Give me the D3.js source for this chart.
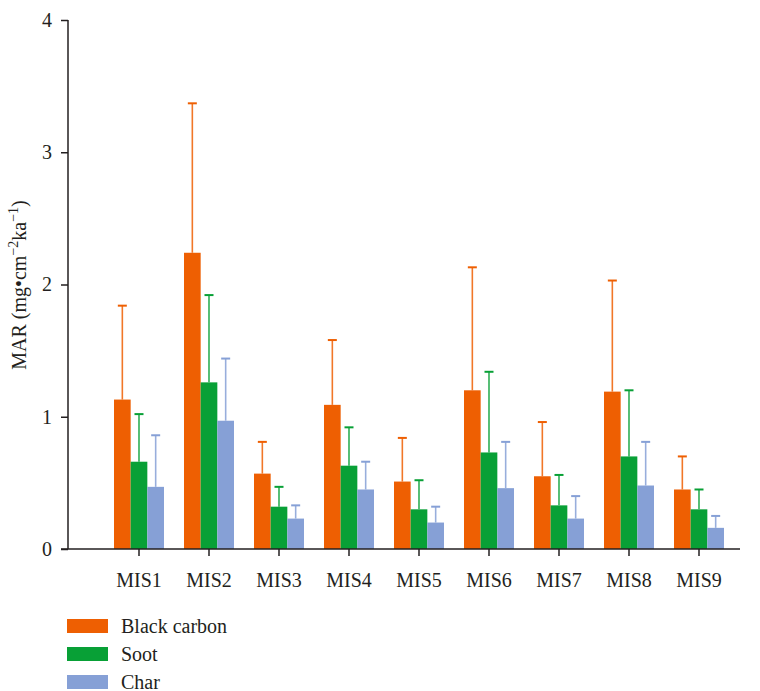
<!DOCTYPE html>
<html>
<head>
<meta charset="utf-8">
<script src="https://cdn.jsdelivr.net/npm/d3@7"></script>
<style>
  html, body { margin: 0; padding: 0; background: #fff; }
  svg { display: block; }
  svg text { font-family: "Liberation Serif", "Times New Roman", "DejaVu Serif", serif; }
</style>
</head>
<body>
<svg id="chart" width="760" height="691"></svg>
<script>
// Mass accumulation rates per marine isotope stage
const categories = ["MIS1", "MIS2", "MIS3", "MIS4", "MIS5", "MIS6", "MIS7", "MIS8", "MIS9"];
const seriesNames = ["Black carbon", "Soot", "Char"];
const blackCarbon    = [1.13, 2.24, 0.57, 1.09, 0.51, 1.20, 0.55, 1.19, 0.45];
const blackCarbonErr = [0.71, 1.13, 0.24, 0.49, 0.33, 0.93, 0.41, 0.84, 0.25];
const soot           = [0.66, 1.26, 0.32, 0.63, 0.30, 0.73, 0.33, 0.70, 0.30];
const sootErr        = [0.36, 0.66, 0.15, 0.29, 0.22, 0.61, 0.23, 0.50, 0.15];
const charVals       = [0.47, 0.97, 0.23, 0.45, 0.20, 0.46, 0.23, 0.48, 0.16];
const charErr        = [0.39, 0.47, 0.10, 0.21, 0.12, 0.35, 0.17, 0.33, 0.09];
const yTicks = [0, 1, 2, 3, 4];

const colors = ["#EE5F02", "#08A036", "#86A0D6"];
const values = [blackCarbon, soot, charVals];
const errors = [blackCarbonErr, sootErr, charErr];
const ink = "#231f20";

const svg = d3.select("#chart");

const y = d3.scaleLinear().domain([0, 4]).range([549, 20]);
const x0 = d3.scaleBand().domain(categories).range([104, 734]).padding(0);
const x1 = d3.scaleBand().domain(seriesNames).range([10, 60]).padding(0);

// Bars with upward error whiskers
seriesNames.forEach((s, si) => {
  const g = svg.append("g");
  categories.forEach((c, ci) => {
    const v = values[si][ci], e = errors[si][ci];
    const bx = x0(c) + x1(s);
    const cx = bx + x1.bandwidth() / 2;
    g.append("line")
      .attr("x1", cx).attr("x2", cx)
      .attr("y1", y(v)).attr("y2", y(v + e))
      .attr("stroke", colors[si]).attr("stroke-width", 1.6).attr("stroke-opacity", 0.85);
    g.append("line")
      .attr("x1", cx - 4.5).attr("x2", cx + 4.5)
      .attr("y1", y(v + e)).attr("y2", y(v + e))
      .attr("stroke", colors[si]).attr("stroke-width", 2);
    g.append("rect")
      .attr("x", bx).attr("width", x1.bandwidth())
      .attr("y", y(v)).attr("height", y(0) - y(v))
      .attr("fill", colors[si]);
  });
});

// Y axis
const yAxis = svg.append("g")
  .attr("transform", "translate(68,0)")
  .call(d3.axisLeft(y).tickValues(yTicks).tickFormat(d3.format("d")).tickSize(7).tickPadding(9));
yAxis.attr("font-family", null);
yAxis.select(".domain").attr("d", `M0,${y(4)}V${y(0)}`).attr("stroke", ink).attr("stroke-width", 1.5);
yAxis.selectAll(".tick line").attr("stroke", ink).attr("stroke-width", 1.5);
yAxis.selectAll(".tick text").attr("font-size", 20).attr("fill", ink);

// X axis
const xAxis = svg.append("g")
  .attr("transform", `translate(0,${y(0)})`)
  .call(d3.axisBottom(x0).tickSize(7).tickPadding(17));
xAxis.attr("font-family", null);
xAxis.select(".domain").attr("d", "M61,0H740").attr("stroke", ink).attr("stroke-width", 1.5);
xAxis.selectAll(".tick line").attr("stroke", ink).attr("stroke-width", 1.5);
xAxis.selectAll(".tick text").attr("font-size", 20).attr("fill", ink);

// Y axis title with superscripts
const yt = svg.append("text")
  .attr("transform", "translate(26,285) rotate(-90)")
  .attr("text-anchor", "middle")
  .attr("font-size", 20)
  .attr("fill", ink);
yt.append("tspan").text("MAR (mg•cm");
yt.append("tspan").attr("dy", -8).attr("font-size", 14).text("−2");
yt.append("tspan").attr("dy", 8).text("ka");
yt.append("tspan").attr("dy", -8).attr("font-size", 14).text("−1");
yt.append("tspan").attr("dy", 8).text(")");

// Legend
const legend = svg.append("g");
seriesNames.forEach((s, i) => {
  const ly = 619 + i * 28;
  legend.append("rect")
    .attr("x", 67).attr("y", ly).attr("width", 41).attr("height", 14)
    .attr("fill", colors[i]);
  legend.append("text")
    .attr("x", 121).attr("y", ly + 7).attr("dy", "0.33em")
    .attr("font-size", 20).attr("fill", ink)
    .text(s);
});
</script>
</body>
</html>
